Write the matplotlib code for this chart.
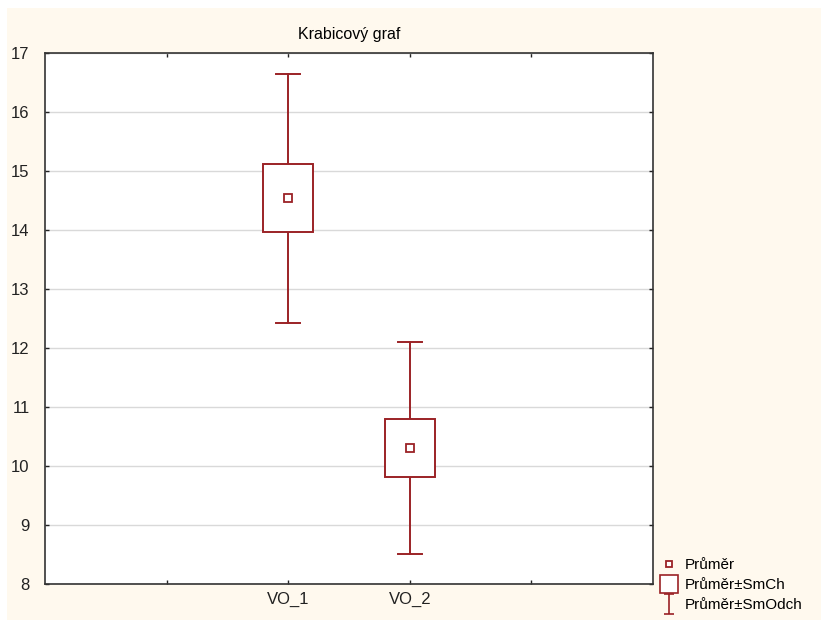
import matplotlib.pyplot as plt
from matplotlib.patches import Rectangle
from matplotlib.lines import Line2D
from matplotlib.path import Path

categories = ['VO_1', 'VO_2']
means = [14.55, 10.30]
se_low = [13.97, 9.81]
se_high = [15.12, 10.79]
sd_low = [12.43, 8.51]
sd_high = [16.64, 12.11]

red = '#9b2226'
plt.rcParams['font.family'] = ['Liberation Sans', 'DejaVu Sans']

fig = plt.figure(figsize=(8.21, 6.2), dpi=100)
fig.patch.set_facecolor('white')
# cream panel like the original export
fig.patches.append(Rectangle((7 / 821, 0), 1, 1 - 8 / 620, transform=fig.transFigure,
                             facecolor='#fff9ee', edgecolor='none', zorder=-1))
ax = fig.add_axes([45 / 821, 1 - 584 / 620, 608 / 821, 531 / 620])
ax.set_facecolor('white')

xs = [2, 3]
box_w = 0.41
for x, m, lo, hi, dlo, dhi in zip(xs, means, se_low, se_high, sd_low, sd_high):
    ax.add_patch(Rectangle((x - box_w / 2, lo), box_w, hi - lo, facecolor='white',
                           edgecolor=red, lw=1.4, zorder=3))
    ax.plot([x, x], [hi, dhi], color=red, lw=1.4, zorder=2)
    ax.plot([x, x], [dlo, lo], color=red, lw=1.4, zorder=2)
    ax.plot([x - 0.1, x + 0.1], [dhi, dhi], color=red, lw=1.4, zorder=2)
    ax.plot([x - 0.1, x + 0.1], [dlo, dlo], color=red, lw=1.4, zorder=2)
    ax.plot([x], [m], marker='s', ms=6, mfc='white', mec=red, mew=1.3, zorder=4)

ax.set_xlim(0, 5)
ax.set_ylim(8, 17)
ax.set_yticks(range(8, 18))
ax.set_xticks([1, 2, 3, 4])
ax.set_xticklabels(['', categories[0], categories[1], ''])
ax.yaxis.grid(True, color='#d9d9d9', lw=1)
ax.set_axisbelow(True)
ax.tick_params(direction='in', length=3, width=1, top=True, right=True,
               labelsize=12, colors='#222222', pad=6)
ax.tick_params(axis='y', pad=11)
for s in ax.spines.values():
    s.set_color('#333333')
    s.set_linewidth(1.2)
ax.set_title('Krabicový graf', fontsize=11.5, pad=10)

ibar = Path([(-0.5, 1), (0.5, 1), (0, 1), (0, -1), (-0.5, -1), (0.5, -1)],
            [Path.MOVETO, Path.LINETO, Path.MOVETO, Path.LINETO, Path.MOVETO, Path.LINETO])
h1 = Line2D([], [], ls='none', marker='s', ms=5, mfc='white', mec=red, mew=1.3)
h2 = Line2D([], [], ls='none', marker='s', ms=13, mfc='white', mec=red, mew=1.2)
h3 = Line2D([], [], ls='none', marker=ibar, ms=14, mfc='none', mec=red, mew=1.2)
fig.legend([h1, h2, h3], ['Průměr', 'Průměr±SmCh', 'Průměr±SmOdch'],
           loc='lower left', bbox_to_anchor=(648 / 821, -6 / 620), frameon=False,
           fontsize=11, handlelength=1.0, handletextpad=0.5, labelspacing=0.4)

fig.savefig('out.png', dpi=100)
